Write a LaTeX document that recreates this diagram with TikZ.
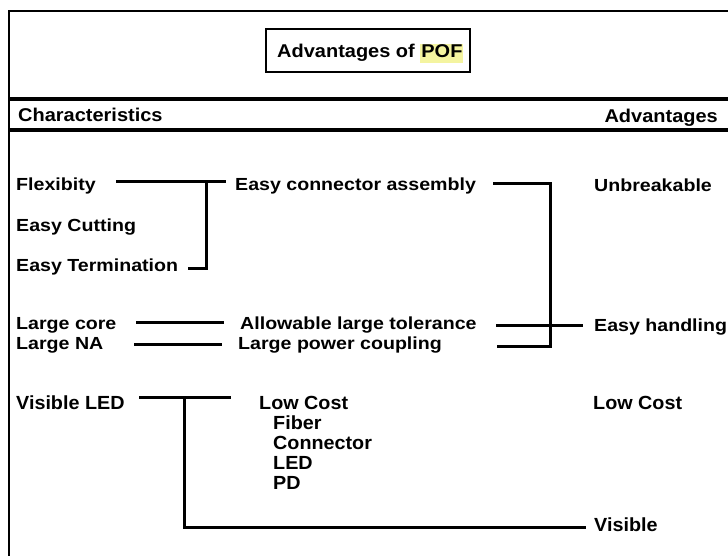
\documentclass[tikz,border=0pt]{standalone}
\usepackage{fontspec}
\setmainfont{Liberation Sans}
\newfontfamily\upsans[FakeStretch=1.12]{Liberation Sans}
\newfontfamily\hdsans[FakeStretch=1.08]{Liberation Sans}
\newfontfamily\lowsans[FakeStretch=1.04]{Liberation Sans}
\definecolor{hl}{HTML}{F4F4A0}
\begin{document}
\begin{tikzpicture}[x=1pt,y=-1pt,
  lbl/.style={anchor=base west,inner sep=0pt,font=\upsans\bfseries\fontsize{17.5}{20}\selectfont},
  hlbl/.style={anchor=base west,inner sep=0pt,font=\hdsans\bfseries\fontsize{18.5}{21}\selectfont},
  mlbl/.style={anchor=base west,inner sep=0pt,font=\lowsans\bfseries\fontsize{19}{22}\selectfont},
  conn/.style={line width=3pt},
  frame/.style={line width=2pt}]
\useasboundingbox (0,0) rectangle (728,556);
% frame
\draw[frame] (728,11) -- (9,11) -- (9,556);
\draw[line width=3.5pt] (9,99) -- (728,99);
\draw[line width=3.5pt] (9,130) -- (728,130);
% title
\node[draw,line width=1.8pt,minimum width=204pt,minimum height=43pt,inner sep=0pt] (title) at (368,50.5) {};
\node[hlbl] (tt) at (277,58) {Advantages of \setlength\fboxsep{1pt}\colorbox{hl}{\vphantom{Ag}POF}};
% headers
\node[hlbl] (char) at (18,122) {Characteristics};
\node[hlbl,anchor=base east] (adv) at (718,123) {Advantages};
% labels
\node[lbl] (flex) at (16,191) {Flexibity};
\node[lbl] (cut) at (16,231) {Easy Cutting};
\node[lbl] (term) at (16,271) {Easy Termination};
\node[lbl] (eca) at (235,191) {Easy connector assembly};
\node[lbl] (unb) at (594,192) {Unbreakable};
\node[lbl] (core) at (16,329) {Large core};
\node[lbl] (na) at (16,349) {Large NA};
\node[lbl] (alt) at (240,329) {Allowable large tolerance};
\node[lbl] (lpc) at (238,349) {Large power coupling};
\node[lbl] (eh) at (594,331) {Easy handling};
\node[mlbl] (vled) at (16,409) {Visible LED};
\node[mlbl] (lc) at (259,409) {Low Cost};
\node[mlbl] (fib) at (273,429) {Fiber};
\node[mlbl] (con) at (273,449) {Connector};
\node[mlbl] (led) at (273,469) {LED};
\node[mlbl] (pd) at (273,489) {PD};
\node[mlbl] (lcr) at (593,409) {Low Cost};
\node[mlbl] (vis) at (594,531) {Visible};
% connector coordinates
\coordinate (a1) at (116,182); \coordinate (a2) at (226,182);
\coordinate (a3) at (206,182); \coordinate (a4) at (206,268); \coordinate (a5) at (188,268);
\coordinate (b1) at (493,184); \coordinate (b2) at (550,184);
\coordinate (b3) at (550,346); \coordinate (b4) at (497,346);
\coordinate (c1) at (496,325); \coordinate (c2) at (583,325);
\coordinate (d1) at (136,322); \coordinate (d2) at (224,322);
\coordinate (e1) at (134,344); \coordinate (e2) at (222,344);
\coordinate (f1) at (139,397); \coordinate (f2) at (231,397);
\coordinate (f3) at (184,397); \coordinate (f4) at (184,527); \coordinate (f5) at (586,527);
\draw[conn] (a1) -- (a2);
\draw[conn] (a3) -- (a4) -- (a5);
\draw[conn] (b1) -- (b2) -- (b3) -- (b4);
\draw[conn] (c1) -- (c2);
\draw[conn] (d1) -- (d2);
\draw[conn] (e1) -- (e2);
\draw[conn] (f1) -- (f2);
\draw[conn] (f3) -- (f4) -- (f5);
\end{tikzpicture}
\end{document}
